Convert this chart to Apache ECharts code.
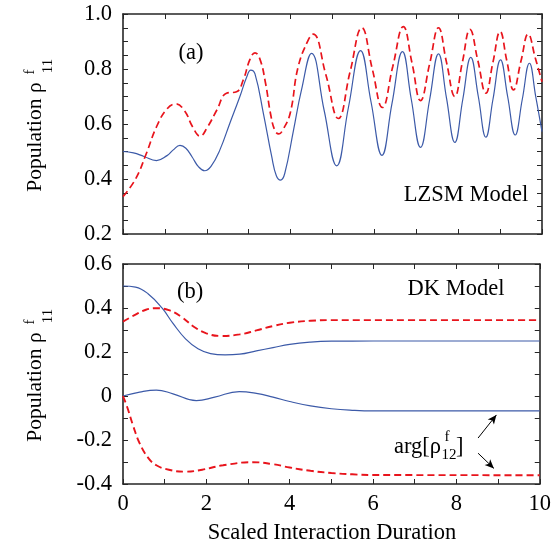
<!DOCTYPE html>
<html>
<head>
<meta charset="utf-8">
<script src="https://cdn.jsdelivr.net/npm/echarts@6/dist/echarts.min.js"></script>
<style>html,body{margin:0;padding:0;background:#fff}#c{width:554px;height:548px}</style>
</head>
<body>
<div id="c"></div>
<script>
// ---- data ----
const xTickLabels = ['0', '2', '4', '6', '8', '10'];
const topYTickLabels = ['0.2', '0.4', '0.6', '0.8', '1.0'];
const bottomYTickLabels = ['-0.4', '-0.2', '0', '0.2', '0.4', '0.6'];

// (a) LZSM model
const lzsmBlue = [[0,0.5],[0.25,0.495],[0.5,0.482],[0.8,0.467],[1.05,0.485],[1.2,0.506],[1.36,0.522],[1.5,0.512],[1.65,0.48],[1.8,0.445],[1.95,0.43],[2.1,0.446],[2.31,0.505],[2.55,0.603],[2.79,0.70],[2.95,0.77],[3.05,0.796],[3.15,0.782],[3.35,0.639],[3.55,0.481],[3.66,0.412],[3.76,0.396],[3.86,0.42],[4.07,0.578],[4.26,0.724],[4.5,0.857],[4.8,0.65],[5.10,0.448],[5.38,0.66],[5.67,0.867],[5.92,0.68],[6.18,0.486],[6.42,0.675],[6.67,0.863],[6.88,0.69],[7.10,0.515],[7.32,0.69],[7.53,0.855],[7.72,0.695],[7.92,0.533],[8.11,0.69],[8.30,0.842],[8.48,0.70],[8.66,0.552],[8.83,0.69],[9.01,0.833],[9.18,0.70],[9.36,0.56],[9.53,0.69],[9.70,0.821],[9.85,0.70],[10,0.572]];
const lzsmRed = [[0,0.336],[0.3,0.40],[0.55,0.49],[0.8,0.59],[1.05,0.655],[1.26,0.673],[1.47,0.648],[1.66,0.59],[1.84,0.556],[2.02,0.59],[2.24,0.651],[2.47,0.712],[2.71,0.717],[2.87,0.76],[3.03,0.835],[3.15,0.859],[3.27,0.835],[3.4,0.75],[3.53,0.63],[3.63,0.575],[3.72,0.564],[3.82,0.58],[3.99,0.639],[4.18,0.808],[4.42,0.905],[4.54,0.927],[4.84,0.78],[5.14,0.62],[5.42,0.79],[5.70,0.95],[5.95,0.80],[6.19,0.66],[6.44,0.81],[6.69,0.954],[6.9,0.82],[7.10,0.685],[7.32,0.82],[7.53,0.95],[7.72,0.825],[7.92,0.70],[8.1,0.825],[8.28,0.944],[8.47,0.83],[8.66,0.712],[8.83,0.825],[9.0,0.936],[9.16,0.83],[9.32,0.724],[9.5,0.83],[9.67,0.927],[9.84,0.84],[10,0.754]];

// (b) DK model
const dkBluePop = [[0,0.5],[0.3,0.495],[0.6,0.465],[0.94,0.399],[1.2,0.33],[1.5,0.26],[1.8,0.215],[2.1,0.193],[2.45,0.187],[2.8,0.19],[3.2,0.205],[3.6,0.22],[4.0,0.235],[4.5,0.245],[5.0,0.249],[6.0,0.25],[10,0.25]];
const dkRedPop = [[0,0.338],[0.3,0.37],[0.55,0.392],[0.8,0.399],[1.1,0.39],[1.4,0.36],[1.7,0.315],[2.0,0.285],[2.35,0.273],[2.8,0.28],[3.2,0.298],[3.6,0.318],[4.0,0.333],[4.5,0.342],[5.0,0.345],[10,0.345]];
const dkBlueArg = [[0,0],[0.4,0.018],[0.8,0.027],[1.2,0.01],[1.76,-0.021],[2.2,-0.005],[2.79,0.02],[3.2,0.012],[3.6,-0.005],[4.0,-0.025],[4.5,-0.045],[5.0,-0.058],[5.5,-0.065],[6.0,-0.068],[10,-0.068]];
const dkRedArg = [[0,0],[0.1,-0.05],[0.25,-0.139],[0.4,-0.215],[0.6,-0.28],[0.8,-0.315],[1.1,-0.335],[1.48,-0.344],[1.9,-0.335],[2.4,-0.315],[3.11,-0.301],[3.6,-0.31],[4.0,-0.325],[4.5,-0.34],[5.0,-0.35],[5.5,-0.356],[6.0,-0.359],[10,-0.36]];
const argArrows = [[[8.52,-0.191],[8.96,-0.086]],[[8.52,-0.26],[8.90,-0.329]]];

// ---- chart ----
const FONT = 'Liberation Serif';
const FS = 22.5;
const AX = '#262626';
const BLUE = '#3c5aa8';
const RED = '#e8141c';
const chart = echarts.init(document.getElementById('c'), null, {renderer: 'canvas'});

function xAxisDef(grid, pos, showLabel) {
  return {
    type: 'value', gridIndex: grid, position: pos, min: 0, max: 10, interval: 1,
    axisLine: {show: true, onZero: false, lineStyle: {color: AX, width: 1.6}},
    axisTick: {show: true, inside: true, length: 5, lineStyle: {color: AX, width: 1}},
    splitLine: {show: false},
    axisLabel: {show: showLabel, margin: 9, color: '#000', fontFamily: FONT, fontSize: FS,
      formatter: function (v) { const s = String(Math.round(v)); return xTickLabels.indexOf(s) >= 0 ? s : ''; }}
  };
}
function yAxisDef(grid, pos, min, max, minorSplit, labels, showLabel) {
  return {
    type: 'value', gridIndex: grid, position: pos, min: min, max: max, interval: 0.2,
    axisLine: {show: true, onZero: false, lineStyle: {color: AX, width: 1.6}},
    axisTick: {show: true, inside: true, length: 5, lineStyle: {color: AX, width: 1}},
    minorTick: {show: true, splitNumber: minorSplit, length: 5, lineStyle: {color: AX, width: 1}},
    splitLine: {show: false}, minorSplitLine: {show: false},
    axisLabel: {show: showLabel, margin: 11, color: '#000', fontFamily: FONT, fontSize: FS,
      formatter: function (v) {
        const s = Math.abs(v) < 1e-9 ? '0' : v.toFixed(1);
        return labels.indexOf(s) >= 0 ? s : '';
      }}
  };
}
function line(data, xi, yi, color, dashed, width) {
  return {
    type: 'line', xAxisIndex: xi, yAxisIndex: yi, data: data, smooth: 0.45, symbol: 'none',
    lineStyle: {color: color, width: width, type: dashed ? [7, 4] : 'solid'}, z: dashed ? 3 : 2,
    silent: true, animation: false
  };
}
function rotText(x, y, text, size) {
  return {type: 'text', x: x, y: y, rotation: Math.PI / 2,
    style: {text: text, fontFamily: FONT, fontSize: size, fill: '#000', align: 'center', verticalAlign: 'middle'}};
}
function plainText(x, y, text, size, align) {
  return {type: 'text', x: x, y: y,
    style: {text: text, fontFamily: FONT, fontSize: size, fill: '#000', align: align || 'center', verticalAlign: 'middle'}};
}

const graphics = [];
[0, 250].forEach(function (dy) {
  graphics.push(rotText(35, 137 + dy, 'Population ρ', 21.5));
  graphics.push(rotText(30, 72 + dy, 'f', 15));
  graphics.push(rotText(48, 66 + dy, '11', 15));
});
graphics.push(plainText(191, 53, '(a)', FS));
graphics.push(plainText(466, 195, 'LZSM Model', FS));
graphics.push(plainText(190, 292, '(b)', FS));
graphics.push(plainText(456, 289, 'DK Model', FS));
graphics.push(plainText(332, 533, 'Scaled Interaction Duration', FS));
graphics.push(plainText(394, 447, 'arg[ρ', FS, 'left'));
graphics.push(plainText(447, 437, 'f', 15));
graphics.push(plainText(449, 455, '12', 15));
graphics.push(plainText(456, 447, ']', FS, 'left'));

chart.setOption({
  animation: false,
  backgroundColor: '#fff',
  grid: [
    {left: 123, top: 14, width: 419, height: 220, containLabel: false},
    {left: 123, top: 264, width: 419, height: 220, containLabel: false}
  ],
  xAxis: [xAxisDef(0, 'bottom', false), xAxisDef(0, 'top', false), xAxisDef(1, 'bottom', true), xAxisDef(1, 'top', false)],
  yAxis: [
    yAxisDef(0, 'left', 0.2, 1.0, 4, topYTickLabels, true),
    yAxisDef(0, 'right', 0.2, 1.0, 4, topYTickLabels, false),
    yAxisDef(1, 'left', -0.4, 0.6, 2, bottomYTickLabels, true),
    yAxisDef(1, 'right', -0.4, 0.6, 2, bottomYTickLabels, false)
  ],
  series: [
    line(lzsmBlue, 0, 0, BLUE, false, 1.2),
    line(lzsmRed, 0, 0, RED, true, 1.7),
    line(dkBluePop, 2, 2, BLUE, false, 1.2),
    line(dkRedPop, 2, 2, RED, true, 1.9),
    line(dkBlueArg, 2, 2, BLUE, false, 1.2),
    line(dkRedArg, 2, 2, RED, true, 1.9),
    {
      type: 'line', xAxisIndex: 2, yAxisIndex: 2, data: [], silent: true,
      markLine: {
        silent: true, symbol: ['none', 'arrow'], symbolSize: [6, 9], animation: false,
        label: {show: false},
        lineStyle: {color: '#000', width: 1, type: 'solid'},
        data: argArrows.map(function (a) { return [{coord: a[0]}, {coord: a[1]}]; })
      }
    }
  ],
  graphic: graphics
});
</script>
</body>
</html>
